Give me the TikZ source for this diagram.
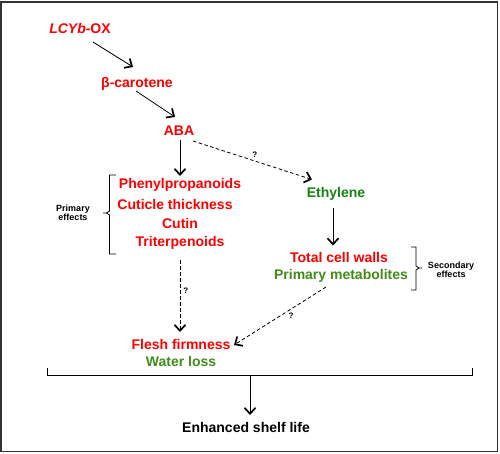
\documentclass[tikz,border=0pt]{standalone}
\usepackage{fontspec}
\setmainfont{Liberation Sans}
\usetikzlibrary{arrows.meta}
\definecolor{myred}{RGB}{255,0,0}
\definecolor{darkgreen}{RGB}{20,130,20}
\definecolor{olivegreen}{RGB}{65,140,25}
\tikzset{
  lbl/.style={inner sep=0pt, anchor=base, font=\fontsize{14}{16}\selectfont\bfseries},
  redt/.style={lbl, text=myred},
  greent/.style={lbl, text=darkgreen},
  olivet/.style={lbl, text=olivegreen},
  blackt/.style={lbl, text=black},
  small/.style={inner sep=0pt, font=\fontsize{9}{10}\selectfont\bfseries, align=center},
  qmark/.style={inner sep=0pt, font=\fontsize{8}{9}\selectfont\bfseries},
  arr/.style={line width=0.8pt, -{Straight Barb[length=6pt,width=11pt,line width=1.7pt]}},
  darr/.style={arr, dash pattern=on 3.5pt off 2.5pt},
  brk/.style={line width=0.8pt},
}
\begin{document}
\begin{tikzpicture}[x=1pt,y=-1pt]
\useasboundingbox (0,0) rectangle (500,453);
\draw[line width=1.5pt, black!80] (1,2) rectangle (497.5,451.5);

\node[redt] (lcyb) at (80,33) {\textit{LCYb}-OX};
\node[redt] (beta) at (137,87) {β-carotene};
\node[redt] (aba) at (179,135) {ABA};
\node[redt] (phenyl) at (180,188) {Phenylpropanoids};
\node[redt] (cuticle) at (175,209.5) {Cuticle thickness};
\node[redt] (cutin) at (180,228) {Cutin};
\node[redt] (trit) at (180,246) {Triterpenoids};
\node[greent] (eth) at (336,197.5) {Ethylene};
\node[redt] (tcw) at (339,262.5) {Total cell walls};
\node[olivet] (prim) at (341,279) {Primary metabolites};
\node[redt] (flesh) at (181,349) {Flesh firmness};
\node[olivet] (water) at (181,366.5) {Water loss};
\node[blackt] (shelf) at (246,432) {Enhanced shelf life};

\node[small] (pe) at (73,213) {Primary\\[-1pt]effects};
\node[small] (se) at (451,269.5) {Secondary\\[-1pt]effects};

% arrows
\draw[arr] ([shift={(13pt,-9pt)}]lcyb.base) -- ([shift={(-4pt,20pt)}]beta.base);
\draw[arr] ([shift={(-1pt,-4pt)}]beta.base) -- ([shift={(-4pt,18pt)}]aba.base);
\draw[arr] ([shift={(1pt,-5pt)}]aba.base) -- ([shift={(0pt,12pt)}]phenyl.base);
\draw[darr] ([shift={(14pt,-6pt)}]aba.base) -- node[qmark, pos=0.52, above=3pt] (q1) {?} ([shift={(-24pt,18pt)}]eth.base);
\draw[arr] ([shift={(-3pt,-10pt)}]eth.base) -- ([shift={(-6pt,17pt)}]tcw.base);
\draw[darr] ([shift={(0pt,-14pt)}]trit.base) -- node[qmark, pos=0.42, right=3pt] (q2) {?} ([shift={(-1pt,17pt)}]flesh.base);
\draw[darr] ([shift={(-15pt,-8pt)}]prim.base) -- node[qmark, pos=0.38, below=3pt] (q3) {?} ([shift={(53pt,4pt)}]flesh.base);

% brackets
\draw[brk] (116,175) -- (109.5,175) -- (109.5,211) -- (106.5,213) -- (103,213);
\draw[brk] (106.5,213) -- (109.5,215) -- (109.5,254) -- (116,254);
\draw[brk] (411,247) -- (416,247) -- (416,266) -- (419,268) -- (422,268);
\draw[brk] (419,268) -- (416,270) -- (416,290) -- (411,290);
\draw[brk] (47,368) -- (47,375) -- (472,375) -- (472,368);
\coordinate (bb) at (250,375);
\draw[arr] (bb) -- ([shift={(4pt,17pt)}]shelf.base);
\end{tikzpicture}
\end{document}
